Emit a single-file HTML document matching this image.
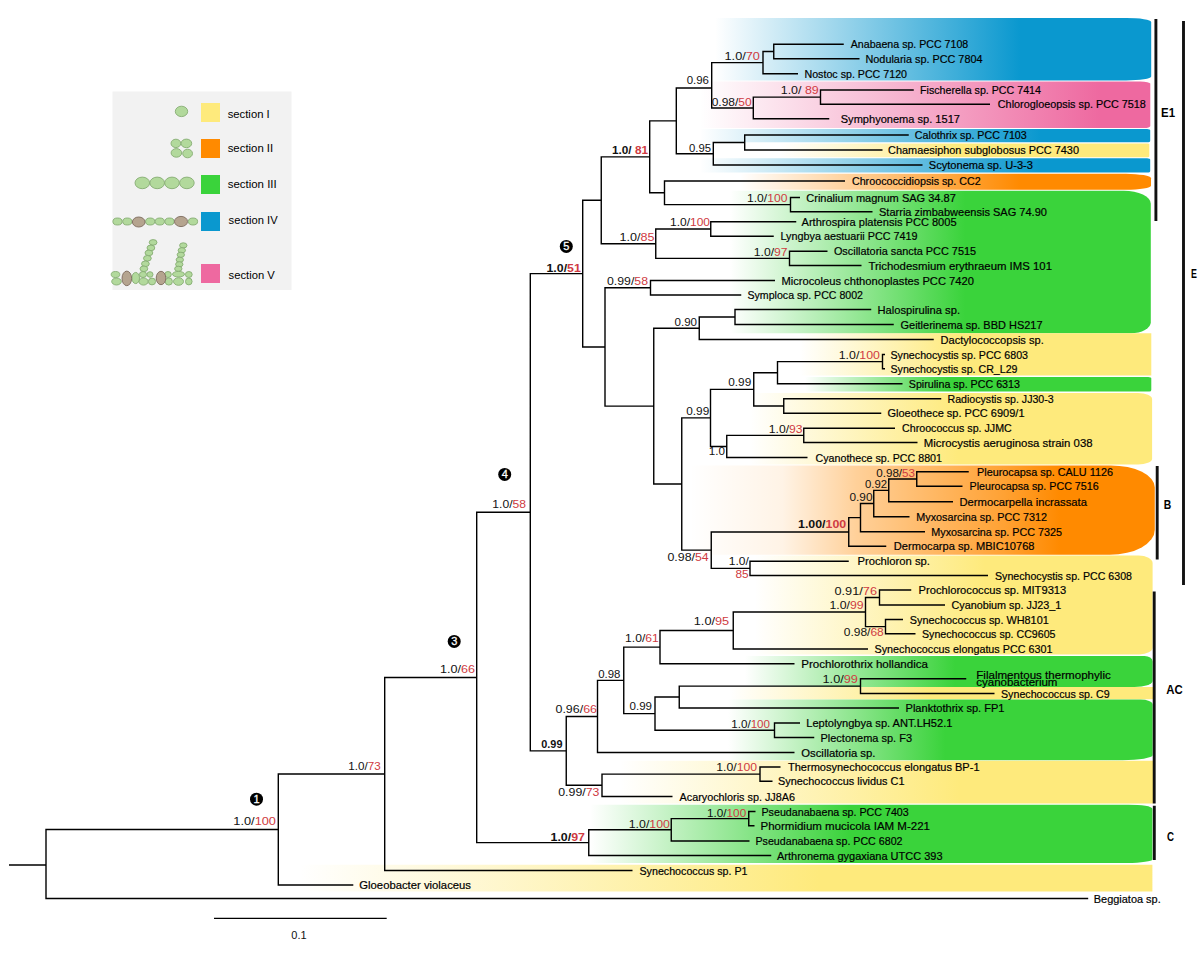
<!DOCTYPE html><html><head><meta charset="utf-8"><style>html,body{margin:0;padding:0;background:#fff;}svg{display:block}</style></head><body>
<svg width="1200" height="953" viewBox="0 0 1200 953" font-family='"Liberation Sans", sans-serif'>
<defs>
<linearGradient id="g0" gradientUnits="userSpaceOnUse" x1="715" y1="0" x2="1020" y2="0"><stop offset="0" stop-color="#0a98cf" stop-opacity="0"/><stop offset="1" stop-color="#0a98cf" stop-opacity="1"/></linearGradient>
<linearGradient id="g1" gradientUnits="userSpaceOnUse" x1="700" y1="0" x2="1100" y2="0"><stop offset="0" stop-color="#ee69a0" stop-opacity="0"/><stop offset="1" stop-color="#ee69a0" stop-opacity="1"/></linearGradient>
<linearGradient id="g2" gradientUnits="userSpaceOnUse" x1="700" y1="0" x2="1040" y2="0"><stop offset="0" stop-color="#0a98cf" stop-opacity="0"/><stop offset="1" stop-color="#0a98cf" stop-opacity="1"/></linearGradient>
<linearGradient id="g3" gradientUnits="userSpaceOnUse" x1="780" y1="0" x2="960" y2="0"><stop offset="0" stop-color="#feea7c" stop-opacity="0"/><stop offset="1" stop-color="#feea7c" stop-opacity="1"/></linearGradient>
<linearGradient id="g4" gradientUnits="userSpaceOnUse" x1="700" y1="0" x2="1040" y2="0"><stop offset="0" stop-color="#0a98cf" stop-opacity="0"/><stop offset="1" stop-color="#0a98cf" stop-opacity="1"/></linearGradient>
<linearGradient id="g5" gradientUnits="userSpaceOnUse" x1="740" y1="0" x2="1020" y2="0"><stop offset="0" stop-color="#ff8a00" stop-opacity="0"/><stop offset="1" stop-color="#ff8a00" stop-opacity="1"/></linearGradient>
<linearGradient id="g6" gradientUnits="userSpaceOnUse" x1="730" y1="0" x2="965" y2="0"><stop offset="0" stop-color="#3ad33b" stop-opacity="0"/><stop offset="1" stop-color="#3ad33b" stop-opacity="1"/></linearGradient>
<linearGradient id="g7" gradientUnits="userSpaceOnUse" x1="800" y1="0" x2="960" y2="0"><stop offset="0" stop-color="#feea7c" stop-opacity="0"/><stop offset="1" stop-color="#feea7c" stop-opacity="1"/></linearGradient>
<linearGradient id="g8" gradientUnits="userSpaceOnUse" x1="805" y1="0" x2="950" y2="0"><stop offset="0" stop-color="#3ad33b" stop-opacity="0"/><stop offset="1" stop-color="#3ad33b" stop-opacity="1"/></linearGradient>
<linearGradient id="g9" gradientUnits="userSpaceOnUse" x1="750" y1="0" x2="958" y2="0"><stop offset="0" stop-color="#feea7c" stop-opacity="0"/><stop offset="1" stop-color="#feea7c" stop-opacity="1"/></linearGradient>
<linearGradient id="g10" gradientUnits="userSpaceOnUse" x1="690" y1="0" x2="1060" y2="0"><stop offset="0" stop-color="#ff8a00" stop-opacity="0"/><stop offset="0.25" stop-color="#ff8a00" stop-opacity="0.1"/><stop offset="0.45" stop-color="#ff8a00" stop-opacity="0.4"/><stop offset="0.85" stop-color="#ff8a00" stop-opacity="0.8"/><stop offset="1" stop-color="#ff8a00" stop-opacity="1"/></linearGradient>
<linearGradient id="g11" gradientUnits="userSpaceOnUse" x1="755" y1="0" x2="985" y2="0"><stop offset="0" stop-color="#feea7c" stop-opacity="0"/><stop offset="1" stop-color="#feea7c" stop-opacity="1"/></linearGradient>
<linearGradient id="g12" gradientUnits="userSpaceOnUse" x1="745" y1="0" x2="955" y2="0"><stop offset="0" stop-color="#3ad33b" stop-opacity="0"/><stop offset="1" stop-color="#3ad33b" stop-opacity="1"/></linearGradient>
<linearGradient id="g13" gradientUnits="userSpaceOnUse" x1="730" y1="0" x2="930" y2="0"><stop offset="0" stop-color="#feea7c" stop-opacity="0"/><stop offset="1" stop-color="#feea7c" stop-opacity="1"/></linearGradient>
<linearGradient id="g14" gradientUnits="userSpaceOnUse" x1="728" y1="0" x2="945" y2="0"><stop offset="0" stop-color="#3ad33b" stop-opacity="0"/><stop offset="1" stop-color="#3ad33b" stop-opacity="1"/></linearGradient>
<linearGradient id="g15" gradientUnits="userSpaceOnUse" x1="620" y1="0" x2="960" y2="0"><stop offset="0" stop-color="#feea7c" stop-opacity="0"/><stop offset="1" stop-color="#feea7c" stop-opacity="1"/></linearGradient>
<linearGradient id="g16" gradientUnits="userSpaceOnUse" x1="590" y1="0" x2="850" y2="0"><stop offset="0" stop-color="#3ad33b" stop-opacity="0"/><stop offset="1" stop-color="#3ad33b" stop-opacity="1"/></linearGradient>
<linearGradient id="g17" gradientUnits="userSpaceOnUse" x1="300" y1="0" x2="820" y2="0"><stop offset="0" stop-color="#feea7c" stop-opacity="0"/><stop offset="1" stop-color="#feea7c" stop-opacity="1"/></linearGradient>
</defs>
<path d="M715 18H1126.2A25 4 0 0 1 1151.2 22V76.4A25 4 0 0 1 1126.2 80.4H715Z" fill="url(#g0)"/>
<path d="M700 81.6H1140.3A10 2 0 0 1 1150.3 83.6V126A6 2 0 0 1 1144.3 128H700Z" fill="url(#g1)"/>
<path d="M700 128.9H1147.2A3 1.5 0 0 1 1150.2 130.4V140.8A3 1.5 0 0 1 1147.2 142.3H700Z" fill="url(#g2)"/>
<path d="M780 143.5H1147.3A2 1 0 0 1 1149.3 144.5V156.2A2 1 0 0 1 1147.3 157.2H780Z" fill="url(#g3)"/>
<path d="M700 158.3H1147.2A3 1.5 0 0 1 1150.2 159.8V171.0A3 1.5 0 0 1 1147.2 172.5H700Z" fill="url(#g4)"/>
<path d="M740 173.8H1126A25 4.5 0 0 1 1151 178.3V185.7A25 4 0 0 1 1126 189.7H740Z" fill="url(#g5)"/>
<path d="M730 190.8H1123.8A27 13 0 0 1 1150.8 203.8V322.2A20 11 0 0 1 1130.8 333.2H730Z" fill="url(#g6)"/>
<path d="M800 333.2H1151.3V375.5H800Z" fill="url(#g7)"/>
<path d="M805 377.1H1148.3A3 1.5 0 0 1 1151.3 378.6V389.9A2 1.5 0 0 1 1149.3 391.4H805Z" fill="url(#g8)"/>
<path d="M750 393.1H1138.1A14 6 0 0 1 1152.1 399.1V458.9A14 5.5 0 0 1 1138.1 464.4H750Z" fill="url(#g9)"/>
<path d="M690 465.4H1110.8A44 22 0 0 1 1154.8 487.4V529.7A45 25 0 0 1 1109.8 554.7H690Z" fill="url(#g10)"/>
<path d="M755 555.5H1138.6A14 7.6 0 0 1 1152.6 563.1V647.4A13 7 0 0 1 1139.6 654.4H755Z" fill="url(#g11)"/>
<path d="M745 655.9H1144.6A8 5.5 0 0 1 1152.6 661.4V681A18 6 0 0 1 1134.6 687H745Z" fill="url(#g12)"/>
<path d="M730 687.0H1153V699.2H730Z" fill="url(#g13)"/>
<path d="M728 699.6H1140.6A12 5 0 0 1 1152.6 704.6V755.2A30 5 0 0 1 1122.6 760.2H728Z" fill="url(#g14)"/>
<path d="M620 760.7H1153V803.6H620Z" fill="url(#g15)"/>
<path d="M590 804.7H1128.4A24 4 0 0 1 1152.4 808.7V859.4A25 3.5 0 0 1 1127.4 862.9H590Z" fill="url(#g16)"/>
<path d="M300 864.7H1152.4V891.5H300Z" fill="url(#g17)"/>
<rect x="112.5" y="91.5" width="179" height="198.5" fill="#f2f2f2"/>
<rect x="201" y="103" width="19" height="19" fill="#feea7c"/>
<text x="227.7" y="118.1" font-size="11.5" fill="#000" textLength="42" lengthAdjust="spacingAndGlyphs">section I</text>
<rect x="201" y="139" width="19" height="19" fill="#ff8a00"/>
<text x="227.7" y="152.3" font-size="11.5" fill="#000" textLength="45.5" lengthAdjust="spacingAndGlyphs">section II</text>
<rect x="201" y="175" width="19" height="19" fill="#3ad33b"/>
<text x="227.7" y="187.6" font-size="11.5" fill="#000" textLength="49" lengthAdjust="spacingAndGlyphs">section III</text>
<rect x="201" y="212" width="19" height="19" fill="#0a98cf"/>
<text x="228.6" y="224.3" font-size="11.5" fill="#000" textLength="49" lengthAdjust="spacingAndGlyphs">section IV</text>
<rect x="201" y="264" width="19" height="19" fill="#ee69a0"/>
<text x="228.6" y="278.6" font-size="11.5" fill="#000" textLength="46.2" lengthAdjust="spacingAndGlyphs">section V</text>
<ellipse cx="181.5" cy="111.4" rx="6.2" ry="5.2" fill="#b2d99c" stroke="#86ad73" stroke-width="0.9"/>
<ellipse cx="175.9" cy="143.4" rx="4.9" ry="4.2" fill="#b2d99c" stroke="#86ad73" stroke-width="0.9"/>
<ellipse cx="186.4" cy="143.4" rx="5.3" ry="4.3" fill="#b2d99c" stroke="#86ad73" stroke-width="0.9"/>
<ellipse cx="176.4" cy="152.9" rx="5.3" ry="4.3" fill="#b2d99c" stroke="#86ad73" stroke-width="0.9"/>
<ellipse cx="187.6" cy="153.5" rx="4.9" ry="4.3" fill="#b2d99c" stroke="#86ad73" stroke-width="0.9"/>
<ellipse cx="142.3" cy="182.9" rx="7.3" ry="5.8" fill="#b2d99c" stroke="#86ad73" stroke-width="0.9"/>
<ellipse cx="157.2" cy="182.9" rx="7.3" ry="5.8" fill="#b2d99c" stroke="#86ad73" stroke-width="0.9"/>
<ellipse cx="172" cy="182.9" rx="7.3" ry="5.8" fill="#b2d99c" stroke="#86ad73" stroke-width="0.9"/>
<ellipse cx="186.9" cy="182.9" rx="7.3" ry="5.8" fill="#b2d99c" stroke="#86ad73" stroke-width="0.9"/>
<ellipse cx="117.5" cy="221.5" rx="4.6" ry="3.5" fill="#b2d99c" stroke="#86ad73" stroke-width="0.9"/>
<ellipse cx="127.3" cy="221.5" rx="4.6" ry="3.5" fill="#b2d99c" stroke="#86ad73" stroke-width="0.9"/>
<ellipse cx="150.2" cy="221.5" rx="4.6" ry="3.5" fill="#b2d99c" stroke="#86ad73" stroke-width="0.9"/>
<ellipse cx="159.8" cy="221.5" rx="4.6" ry="3.5" fill="#b2d99c" stroke="#86ad73" stroke-width="0.9"/>
<ellipse cx="169.5" cy="221.5" rx="4.6" ry="3.5" fill="#b2d99c" stroke="#86ad73" stroke-width="0.9"/>
<ellipse cx="193" cy="221.5" rx="4.6" ry="3.5" fill="#b2d99c" stroke="#86ad73" stroke-width="0.9"/>
<ellipse cx="138.7" cy="222" rx="6.3" ry="5" fill="#b5a48f" stroke="#7d6a5c" stroke-width="0.9"/>
<ellipse cx="181" cy="221.5" rx="6.5" ry="5.1" fill="#b5a48f" stroke="#7d6a5c" stroke-width="0.9"/>
<ellipse cx="153.1" cy="242.4" rx="3.9" ry="2.8" fill="#b2d99c" stroke="#86ad73" stroke-width="0.9"/>
<ellipse cx="150.9" cy="247.9" rx="3.9" ry="2.8" fill="#b2d99c" stroke="#86ad73" stroke-width="0.9"/>
<ellipse cx="148.9" cy="252.9" rx="3.9" ry="2.8" fill="#b2d99c" stroke="#86ad73" stroke-width="0.9"/>
<ellipse cx="147.4" cy="258.3" rx="3.9" ry="2.8" fill="#b2d99c" stroke="#86ad73" stroke-width="0.9"/>
<ellipse cx="145.4" cy="263.8" rx="3.9" ry="2.8" fill="#b2d99c" stroke="#86ad73" stroke-width="0.9"/>
<ellipse cx="143.9" cy="268.8" rx="3.9" ry="2.8" fill="#b2d99c" stroke="#86ad73" stroke-width="0.9"/>
<ellipse cx="183.3" cy="245.4" rx="3.7" ry="2.6" fill="#b2d99c" stroke="#86ad73" stroke-width="0.9"/>
<ellipse cx="181.8" cy="250.3" rx="3.7" ry="2.6" fill="#b2d99c" stroke="#86ad73" stroke-width="0.9"/>
<ellipse cx="180.8" cy="254.8" rx="3.7" ry="2.6" fill="#b2d99c" stroke="#86ad73" stroke-width="0.9"/>
<ellipse cx="179.8" cy="259.8" rx="3.7" ry="2.6" fill="#b2d99c" stroke="#86ad73" stroke-width="0.9"/>
<ellipse cx="179.3" cy="264.3" rx="3.7" ry="2.6" fill="#b2d99c" stroke="#86ad73" stroke-width="0.9"/>
<ellipse cx="178.3" cy="268.8" rx="3.7" ry="2.6" fill="#b2d99c" stroke="#86ad73" stroke-width="0.9"/>
<ellipse cx="115.5" cy="274.5" rx="4.3" ry="3" fill="#b2d99c" stroke="#86ad73" stroke-width="0.9"/>
<ellipse cx="116.5" cy="281.5" rx="4.8" ry="3.5" fill="#b2d99c" stroke="#86ad73" stroke-width="0.9"/>
<ellipse cx="143" cy="274.5" rx="3.6" ry="3" fill="#b2d99c" stroke="#86ad73" stroke-width="0.9"/>
<ellipse cx="143.5" cy="281.5" rx="4.6" ry="3.6" fill="#b2d99c" stroke="#86ad73" stroke-width="0.9"/>
<ellipse cx="150" cy="274.5" rx="3" ry="2.8" fill="#b2d99c" stroke="#86ad73" stroke-width="0.9"/>
<ellipse cx="152" cy="281.5" rx="3.6" ry="3.4" fill="#b2d99c" stroke="#86ad73" stroke-width="0.9"/>
<ellipse cx="168" cy="274.5" rx="3.3" ry="3" fill="#b2d99c" stroke="#86ad73" stroke-width="0.9"/>
<ellipse cx="168.8" cy="281.5" rx="3.6" ry="3.6" fill="#b2d99c" stroke="#86ad73" stroke-width="0.9"/>
<ellipse cx="178.5" cy="274.2" rx="6" ry="2.8" fill="#b2d99c" stroke="#86ad73" stroke-width="0.9"/>
<ellipse cx="178.5" cy="281.5" rx="5" ry="3.8" fill="#b2d99c" stroke="#86ad73" stroke-width="0.9"/>
<ellipse cx="188.8" cy="274.5" rx="3.4" ry="3" fill="#b2d99c" stroke="#86ad73" stroke-width="0.9"/>
<ellipse cx="188.8" cy="281.5" rx="3.3" ry="3.4" fill="#b2d99c" stroke="#86ad73" stroke-width="0.9"/>
<ellipse cx="135.7" cy="278" rx="3.8" ry="5.6" fill="#b2d99c" stroke="#86ad73" stroke-width="0.9"/>
<ellipse cx="126.8" cy="278.4" rx="4.8" ry="7.3" fill="#b5a48f" stroke="#7d6a5c" stroke-width="0.9"/>
<ellipse cx="161" cy="278" rx="4.8" ry="6.7" fill="#b5a48f" stroke="#7d6a5c" stroke-width="0.9"/>
<path d="M46 828.79V899.20M46 829.49H278.3M46 898.50H1088.2M278.3 773.27V885.70M278.3 773.97H384.7M278.3 885.00H353.3M384.7 676.75V871.20M384.7 677.45H476.7M384.7 870.50H632.5M476.7 511.54V843.36M476.7 512.24H530.3M476.7 842.66H588.75M530.3 272.90V751.58M530.3 273.60H582.7M530.3 750.88H566.25M582.7 199.57V347.64M582.7 200.27H601.25M582.7 346.94H605M601.25 156.14V244.39M601.25 156.84H649.7M601.25 243.69H655.75M649.7 120.17V193.51M649.7 120.88H676.3M649.7 192.81H664.5M676.3 87.30V154.45M676.3 88.00H711.7M676.3 153.75H713.3M711.7 61.92V108.64M711.7 62.62H763M711.7 107.94H753.3M763 50.80V74.45M763 51.50H773.75M763 73.75H798M773.75 43.55V59.45M773.75 44.25H843.75M773.75 58.75H859.5M753.3 96.42V119.45M753.3 97.12H820.5M753.3 118.75H829.25M820.5 89.30V104.95M820.5 90.00H913.75M820.5 104.25H990M713.3 141.80V165.70M713.3 142.50H744.7M713.3 165.00H922.5M744.7 134.30V150.70M744.7 135.00H908.75M744.7 150.00H882.5M664.5 180.30V205.32M664.5 181.00H845M664.5 204.62H790.5M790.5 196.80V212.45M790.5 197.50H800M790.5 211.75H872.5M655.75 228.30V259.07M655.75 229.00H710.75M655.75 258.38H789.5M710.75 221.05V236.95M710.75 221.75H796.25M710.75 236.25H773.75M789.5 250.55V266.20M789.5 251.25H827.5M789.5 265.50H861.5M605 287.05V406.84M605 287.75H650.5M605 406.14H653.75M650.5 279.80V295.70M650.5 280.50H775M650.5 295.00H741.25M653.75 327.55V484.73M653.75 328.25H699.25M653.75 484.03H681.75M699.25 316.30V340.20M699.25 317.00H735M699.25 339.50H933.75M735 308.80V325.20M735 309.50H871.25M735 324.50H893.75M681.75 417.19V550.86M681.75 417.89H710.5M681.75 550.16H711.25M710.5 388.64V447.14M710.5 389.34H753.75M710.5 446.44H726.75M753.75 371.99V406.70M753.75 372.69H777.5M753.75 406.00H783.75M777.5 360.93V384.45M777.5 361.62H882.5M777.5 383.75H902.5M882.5 353.80V369.45M882.5 354.50H885M882.5 368.75H885M783.75 398.05V413.95M783.75 398.75H941.25M783.75 413.25H881.25M726.75 434.68V458.20M726.75 435.38H803.75M726.75 457.50H807.5M803.75 427.55V443.20M803.75 428.25H895M803.75 442.50H917.5M711.25 531.25V569.08M711.25 531.95H848.75M711.25 568.38H750M848.75 516.96V546.95M848.75 517.66H860.5M848.75 546.25H886.25M860.5 502.86V532.45M860.5 503.56H873.75M860.5 531.75H925M873.75 489.68V517.45M873.75 490.38H888.75M873.75 516.75H909.5M888.75 478.30V502.45M888.75 479.00H916.75M888.75 501.75H953M916.75 471.05V486.95M916.75 471.75H968.75M916.75 486.25H962.5M750 560.55V576.20M750 561.25H848.75M750 575.50H988M566.25 715.75V786.01M566.25 716.45H597.5M566.25 785.31H602M597.5 679.70V753.20M597.5 680.40H623.75M597.5 752.50H794.5M623.75 646.44V714.36M623.75 647.14H660M623.75 713.66H655M660 629.83V664.45M660 630.53H733.25M660 663.75H794.5M733.25 611.36V649.70M733.25 612.06H865.5M733.25 649.00H868M865.5 596.80V627.33M865.5 597.50H879.5M865.5 626.62H885.5M879.5 589.30V605.70M879.5 590.00H911.25M879.5 605.00H945M885.5 618.80V634.45M885.5 619.50H903M885.5 633.75H915.5M655 696.36V730.95M655 697.06H679.25M655 730.25H774.5M679.25 685.42V708.70M679.25 686.12H860.5M679.25 708.00H899M860.5 678.05V694.20M860.5 678.75H966.25M860.5 693.50H994.5M774.5 722.30V738.20M774.5 723.00H800M774.5 737.50H814.25M602 773.42V797.20M602 774.12H760M602 796.50H672.5M760 766.30V781.95M760 767.00H780.5M760 781.25H772.5M588.75 829.11V856.20M588.75 829.81H671.25M588.75 855.50H771.25M671.25 817.92V841.70M671.25 818.62H748.75M671.25 841.00H749.5M748.75 810.80V826.45M748.75 811.50H755.5M748.75 825.75H754.5M9 865.00H46" stroke="#000" stroke-width="1.4" fill="none"/>
<text x="850.75" y="48.25" font-size="11.5" textLength="117.5" lengthAdjust="spacingAndGlyphs" fill="#000" stroke="#000" stroke-width="0.2">Anabaena sp. PCC 7108</text>
<text x="865.5" y="62.75" font-size="11.5" textLength="117.0" lengthAdjust="spacingAndGlyphs" fill="#000" stroke="#000" stroke-width="0.2">Nodularia sp. PCC 7804</text>
<text x="804.5" y="77.75" font-size="11.5" textLength="102.5" lengthAdjust="spacingAndGlyphs" fill="#000" stroke="#000" stroke-width="0.2">Nostoc sp. PCC 7120</text>
<text x="920" y="94" font-size="11.5" textLength="121.0" lengthAdjust="spacingAndGlyphs" fill="#000" stroke="#000" stroke-width="0.2">Fischerella sp. PCC 7414</text>
<text x="997.8" y="108.25" font-size="11.5" textLength="148.1" lengthAdjust="spacingAndGlyphs" fill="#000" stroke="#000" stroke-width="0.2">Chlorogloeopsis sp. PCC 7518</text>
<text x="840.75" y="122.75" font-size="11.5" textLength="119.2" lengthAdjust="spacingAndGlyphs" fill="#000" stroke="#000" stroke-width="0.2">Symphyonema sp. 1517</text>
<text x="914.8" y="139" font-size="11.5" textLength="112.0" lengthAdjust="spacingAndGlyphs" fill="#000" stroke="#000" stroke-width="0.2">Calothrix sp. PCC 7103</text>
<text x="888.1" y="154" font-size="11.5" textLength="190.9" lengthAdjust="spacingAndGlyphs" fill="#000" stroke="#000" stroke-width="0.2">Chamaesiphon subglobosus PCC 7430</text>
<text x="928.8" y="169" font-size="11.5" textLength="104.1" lengthAdjust="spacingAndGlyphs" fill="#000" stroke="#000" stroke-width="0.2">Scytonema sp. U-3-3</text>
<text x="851.9" y="185" font-size="11.5" textLength="128.9" lengthAdjust="spacingAndGlyphs" fill="#000" stroke="#000" stroke-width="0.2">Chroococcidiopsis sp. CC2</text>
<text x="806.25" y="201.5" font-size="11.5" textLength="149.6" lengthAdjust="spacingAndGlyphs" fill="#000" stroke="#000" stroke-width="0.2">Crinalium magnum SAG 34.87</text>
<text x="879" y="215.75" font-size="11.5" textLength="167.9" lengthAdjust="spacingAndGlyphs" fill="#000" stroke="#000" stroke-width="0.2">Starria zimbabweensis SAG 74.90</text>
<text x="801.5" y="225.75" font-size="11.5" textLength="155.1" lengthAdjust="spacingAndGlyphs" fill="#000" stroke="#000" stroke-width="0.2">Arthrospira platensis PCC 8005</text>
<text x="780.5" y="240.25" font-size="11.5" textLength="137.1" lengthAdjust="spacingAndGlyphs" fill="#000" stroke="#000" stroke-width="0.2">Lyngbya aestuarii PCC 7419</text>
<text x="833.9" y="255.25" font-size="11.5" textLength="142.2" lengthAdjust="spacingAndGlyphs" fill="#000" stroke="#000" stroke-width="0.2">Oscillatoria sancta PCC 7515</text>
<text x="868.4" y="269.5" font-size="11.5" textLength="183.6" lengthAdjust="spacingAndGlyphs" fill="#000" stroke="#000" stroke-width="0.2">Trichodesmium erythraeum IMS 101</text>
<text x="781.4" y="284.5" font-size="11.5" textLength="192.6" lengthAdjust="spacingAndGlyphs" fill="#000" stroke="#000" stroke-width="0.2">Microcoleus chthonoplastes PCC 7420</text>
<text x="747.5" y="299" font-size="11.5" textLength="115.5" lengthAdjust="spacingAndGlyphs" fill="#000" stroke="#000" stroke-width="0.2">Symploca sp. PCC 8002</text>
<text x="877.5" y="313.5" font-size="11.5" textLength="82.5" lengthAdjust="spacingAndGlyphs" fill="#000" stroke="#000" stroke-width="0.2">Halospirulina sp.</text>
<text x="900.5" y="328.5" font-size="11.5" textLength="142.0" lengthAdjust="spacingAndGlyphs" fill="#000" stroke="#000" stroke-width="0.2">Geitlerinema sp. BBD HS217</text>
<text x="940.5" y="343.5" font-size="11.5" textLength="103.2" lengthAdjust="spacingAndGlyphs" fill="#000" stroke="#000" stroke-width="0.2">Dactylococcopsis sp.</text>
<text x="890.5" y="358.5" font-size="11.5" textLength="137.5" lengthAdjust="spacingAndGlyphs" fill="#000" stroke="#000" stroke-width="0.2">Synechocystis sp. PCC 6803</text>
<text x="890.5" y="372.75" font-size="11.5" textLength="127.0" lengthAdjust="spacingAndGlyphs" fill="#000" stroke="#000" stroke-width="0.2">Synechocystis sp. CR_L29</text>
<text x="908.75" y="387.75" font-size="11.5" textLength="111.2" lengthAdjust="spacingAndGlyphs" fill="#000" stroke="#000" stroke-width="0.2">Spirulina sp. PCC 6313</text>
<text x="947.5" y="402.75" font-size="11.5" textLength="106.2" lengthAdjust="spacingAndGlyphs" fill="#000" stroke="#000" stroke-width="0.2">Radiocystis sp. JJ30-3</text>
<text x="887.5" y="417.25" font-size="11.5" textLength="137.0" lengthAdjust="spacingAndGlyphs" fill="#000" stroke="#000" stroke-width="0.2">Gloeothece sp. PCC 6909/1</text>
<text x="902" y="432.25" font-size="11.5" textLength="109.8" lengthAdjust="spacingAndGlyphs" fill="#000" stroke="#000" stroke-width="0.2">Chroococcus sp. JJMC</text>
<text x="923.75" y="446.5" font-size="11.5" textLength="168.8" lengthAdjust="spacingAndGlyphs" fill="#000" stroke="#000" stroke-width="0.2">Microcystis aeruginosa strain 038</text>
<text x="815.5" y="461.5" font-size="11.5" textLength="126.5" lengthAdjust="spacingAndGlyphs" fill="#000" stroke="#000" stroke-width="0.2">Cyanothece sp. PCC 8801</text>
<text x="977" y="475.75" font-size="11.5" textLength="136.0" lengthAdjust="spacingAndGlyphs" fill="#000" stroke="#000" stroke-width="0.2">Pleurocapsa sp. CALU 1126</text>
<text x="969.5" y="490.25" font-size="11.5" textLength="129.2" lengthAdjust="spacingAndGlyphs" fill="#000" stroke="#000" stroke-width="0.2">Pleurocapsa sp. PCC 7516</text>
<text x="959.5" y="505.75" font-size="11.5" textLength="127.5" lengthAdjust="spacingAndGlyphs" fill="#000" stroke="#000" stroke-width="0.2">Dermocarpella incrassata</text>
<text x="916.25" y="520.75" font-size="11.5" textLength="130.8" lengthAdjust="spacingAndGlyphs" fill="#000" stroke="#000" stroke-width="0.2">Myxosarcina sp. PCC 7312</text>
<text x="931.25" y="535.75" font-size="11.5" textLength="130.8" lengthAdjust="spacingAndGlyphs" fill="#000" stroke="#000" stroke-width="0.2">Myxosarcina sp. PCC 7325</text>
<text x="893.75" y="550.25" font-size="11.5" textLength="140.8" lengthAdjust="spacingAndGlyphs" fill="#000" stroke="#000" stroke-width="0.2">Dermocarpa sp. MBIC10768</text>
<text x="857.5" y="565.25" font-size="11.5" textLength="72.5" lengthAdjust="spacingAndGlyphs" fill="#000" stroke="#000" stroke-width="0.2">Prochloron sp.</text>
<text x="995" y="579.5" font-size="11.5" textLength="137.0" lengthAdjust="spacingAndGlyphs" fill="#000" stroke="#000" stroke-width="0.2">Synechocystis sp. PCC 6308</text>
<text x="918.5" y="594" font-size="11.5" textLength="147.8" lengthAdjust="spacingAndGlyphs" fill="#000" stroke="#000" stroke-width="0.2">Prochlorococcus sp. MIT9313</text>
<text x="951.5" y="609" font-size="11.5" textLength="109.8" lengthAdjust="spacingAndGlyphs" fill="#000" stroke="#000" stroke-width="0.2">Cyanobium sp. JJ23_1</text>
<text x="909.75" y="623.5" font-size="11.5" textLength="139.0" lengthAdjust="spacingAndGlyphs" fill="#000" stroke="#000" stroke-width="0.2">Synechococcus sp. WH8101</text>
<text x="922" y="637.75" font-size="11.5" textLength="133.5" lengthAdjust="spacingAndGlyphs" fill="#000" stroke="#000" stroke-width="0.2">Synechococcus sp. CC9605</text>
<text x="874.5" y="653" font-size="11.5" textLength="178.0" lengthAdjust="spacingAndGlyphs" fill="#000" stroke="#000" stroke-width="0.2">Synechococcus elongatus PCC 6301</text>
<text x="801.25" y="667.75" font-size="11.5" textLength="126.8" lengthAdjust="spacingAndGlyphs" fill="#000" stroke="#000" stroke-width="0.2">Prochlorothrix hollandica</text>
<text x="976.25" y="679.15" font-size="11.5" textLength="134.5" lengthAdjust="spacingAndGlyphs" fill="#000" stroke="#000" stroke-width="0.2">Filalmentous thermophylic</text>
<text x="976.25" y="685.95" font-size="11.5" textLength="81.2" lengthAdjust="spacingAndGlyphs" fill="#000" stroke="#000" stroke-width="0.2">cyanobacterium</text>
<text x="1001" y="697.5" font-size="11.5" textLength="108.6" lengthAdjust="spacingAndGlyphs" fill="#000" stroke="#000" stroke-width="0.2">Synechococcus sp. C9</text>
<text x="905.5" y="712" font-size="11.5" textLength="99.0" lengthAdjust="spacingAndGlyphs" fill="#000" stroke="#000" stroke-width="0.2">Planktothrix sp. FP1</text>
<text x="806.25" y="727" font-size="11.5" textLength="146.2" lengthAdjust="spacingAndGlyphs" fill="#000" stroke="#000" stroke-width="0.2">Leptolyngbya sp. ANT.LH52.1</text>
<text x="820.5" y="741.5" font-size="11.5" textLength="91.5" lengthAdjust="spacingAndGlyphs" fill="#000" stroke="#000" stroke-width="0.2">Plectonema sp. F3</text>
<text x="801.25" y="756.5" font-size="11.5" textLength="74.2" lengthAdjust="spacingAndGlyphs" fill="#000" stroke="#000" stroke-width="0.2">Oscillatoria sp.</text>
<text x="788" y="771" font-size="11.5" textLength="191.5" lengthAdjust="spacingAndGlyphs" fill="#000" stroke="#000" stroke-width="0.2">Thermosynechococcus elongatus BP-1</text>
<text x="778" y="785.25" font-size="11.5" textLength="126.5" lengthAdjust="spacingAndGlyphs" fill="#000" stroke="#000" stroke-width="0.2">Synechococcus lividus C1</text>
<text x="679.5" y="800.5" font-size="11.5" textLength="115.5" lengthAdjust="spacingAndGlyphs" fill="#000" stroke="#000" stroke-width="0.2">Acaryochloris sp. JJ8A6</text>
<text x="761.5" y="815.5" font-size="11.5" textLength="147.2" lengthAdjust="spacingAndGlyphs" fill="#000" stroke="#000" stroke-width="0.2">Pseudanabaena sp. PCC 7403</text>
<text x="760.5" y="829.75" font-size="11.5" textLength="169.5" lengthAdjust="spacingAndGlyphs" fill="#000" stroke="#000" stroke-width="0.2">Phormidium mucicola IAM M-221</text>
<text x="755.5" y="845" font-size="11.5" textLength="147.0" lengthAdjust="spacingAndGlyphs" fill="#000" stroke="#000" stroke-width="0.2">Pseudanabaena sp. PCC 6802</text>
<text x="777" y="859.5" font-size="11.5" textLength="165.5" lengthAdjust="spacingAndGlyphs" fill="#000" stroke="#000" stroke-width="0.2">Arthronema gygaxiana UTCC 393</text>
<text x="639.5" y="874.5" font-size="11.5" textLength="108.0" lengthAdjust="spacingAndGlyphs" fill="#000" stroke="#000" stroke-width="0.2">Synechococcus sp. P1</text>
<text x="359.3" y="889" font-size="11.5" textLength="111.7" lengthAdjust="spacingAndGlyphs" fill="#000" stroke="#000" stroke-width="0.2">Gloeobacter violaceus</text>
<text x="1093.8" y="902.5" font-size="11.5" textLength="66.9" lengthAdjust="spacingAndGlyphs" fill="#000" stroke="#000" stroke-width="0.2">Beggiatoa sp.</text>
<text x="724.5" y="60" font-size="11" textLength="35.5" lengthAdjust="spacingAndGlyphs" fill="#111">1.0/<tspan fill="#cf3a42">70</tspan></text>
<text x="686.7" y="84" font-size="11" textLength="22.3" lengthAdjust="spacingAndGlyphs" fill="#111">0.96<tspan fill="#cf3a42"></tspan></text>
<text x="711.7" y="105.8" font-size="11" textLength="40.0" lengthAdjust="spacingAndGlyphs" fill="#111">0.98/<tspan fill="#cf3a42">50</tspan></text>
<text x="780.75" y="93.75" font-size="11" textLength="38.0" lengthAdjust="spacingAndGlyphs" fill="#111">1.0/ <tspan fill="#cf3a42">89</tspan></text>
<text x="689" y="151.7" font-size="11" textLength="22.0" lengthAdjust="spacingAndGlyphs" fill="#111">0.95<tspan fill="#cf3a42"></tspan></text>
<text x="612" y="153.7" font-size="11" font-weight="bold" textLength="36.0" lengthAdjust="spacingAndGlyphs" fill="#111">1.0/ <tspan fill="#cf3a42">81</tspan></text>
<text x="747" y="201.75" font-size="11" textLength="40.5" lengthAdjust="spacingAndGlyphs" fill="#111">1.0/<tspan fill="#cf3a42">100</tspan></text>
<text x="670" y="226.25" font-size="11" textLength="40.0" lengthAdjust="spacingAndGlyphs" fill="#111">1.0/<tspan fill="#cf3a42">100</tspan></text>
<text x="619.5" y="241.25" font-size="11" textLength="35.0" lengthAdjust="spacingAndGlyphs" fill="#111">1.0/<tspan fill="#cf3a42">85</tspan></text>
<text x="753.75" y="255.75" font-size="11" textLength="33.8" lengthAdjust="spacingAndGlyphs" fill="#111">1.0/<tspan fill="#cf3a42">97</tspan></text>
<text x="546.5" y="271.5" font-size="11" font-weight="bold" textLength="34.3" lengthAdjust="spacingAndGlyphs" fill="#111">1.0/<tspan fill="#cf3a42">51</tspan></text>
<text x="607" y="285" font-size="11" textLength="41.0" lengthAdjust="spacingAndGlyphs" fill="#111">0.99/<tspan fill="#cf3a42">58</tspan></text>
<text x="674.5" y="325.75" font-size="11" textLength="22.5" lengthAdjust="spacingAndGlyphs" fill="#111">0.90<tspan fill="#cf3a42"></tspan></text>
<text x="838.75" y="358.75" font-size="11" textLength="41.2" lengthAdjust="spacingAndGlyphs" fill="#111">1.0/<tspan fill="#cf3a42">100</tspan></text>
<text x="728.25" y="385.5" font-size="11" textLength="23.0" lengthAdjust="spacingAndGlyphs" fill="#111">0.99<tspan fill="#cf3a42"></tspan></text>
<text x="686.25" y="415" font-size="11" textLength="23.0" lengthAdjust="spacingAndGlyphs" fill="#111">0.99<tspan fill="#cf3a42"></tspan></text>
<text x="768.75" y="433" font-size="11" textLength="33.8" lengthAdjust="spacingAndGlyphs" fill="#111">1.0/<tspan fill="#cf3a42">93</tspan></text>
<text x="708.75" y="455" font-size="11" textLength="16.2" lengthAdjust="spacingAndGlyphs" fill="#111">1.0<tspan fill="#cf3a42"></tspan></text>
<text x="876.25" y="476.75" font-size="11" textLength="38.8" lengthAdjust="spacingAndGlyphs" fill="#111">0.98/<tspan fill="#cf3a42">53</tspan></text>
<text x="865" y="488.25" font-size="11" textLength="22.0" lengthAdjust="spacingAndGlyphs" fill="#111">0.92<tspan fill="#cf3a42"></tspan></text>
<text x="849.5" y="501.25" font-size="11" textLength="23.0" lengthAdjust="spacingAndGlyphs" fill="#111">0.90<tspan fill="#cf3a42"></tspan></text>
<text x="798" y="528" font-size="11" font-weight="bold" textLength="48.2" lengthAdjust="spacingAndGlyphs" fill="#111">1.00/<tspan fill="#cf3a42">100</tspan></text>
<text x="492.3" y="508" font-size="11" textLength="33.7" lengthAdjust="spacingAndGlyphs" fill="#111">1.0/<tspan fill="#cf3a42">58</tspan></text>
<text x="667.5" y="560.5" font-size="11" textLength="41.2" lengthAdjust="spacingAndGlyphs" fill="#111">0.98/<tspan fill="#cf3a42">54</tspan></text>
<text x="728.75" y="565" font-size="11" textLength="20.0" lengthAdjust="spacingAndGlyphs" fill="#111">1.0/<tspan fill="#cf3a42"></tspan></text>
<text x="735.5" y="578" font-size="11" textLength="13.2" lengthAdjust="spacingAndGlyphs" fill="#111"><tspan fill="#cf3a42">85</tspan></text>
<text x="834.5" y="595" font-size="11" textLength="42.5" lengthAdjust="spacingAndGlyphs" fill="#111">0.91/<tspan fill="#cf3a42">76</tspan></text>
<text x="829.5" y="608.75" font-size="11" textLength="34.2" lengthAdjust="spacingAndGlyphs" fill="#111">1.0/<tspan fill="#cf3a42">99</tspan></text>
<text x="693.75" y="625" font-size="11" textLength="35.5" lengthAdjust="spacingAndGlyphs" fill="#111">1.0/<tspan fill="#cf3a42">95</tspan></text>
<text x="843.75" y="636.25" font-size="11" textLength="40.0" lengthAdjust="spacingAndGlyphs" fill="#111">0.98/<tspan fill="#cf3a42">68</tspan></text>
<text x="625" y="642" font-size="11" textLength="33.8" lengthAdjust="spacingAndGlyphs" fill="#111">1.0/<tspan fill="#cf3a42">61</tspan></text>
<text x="440" y="673.2" font-size="11" textLength="35.0" lengthAdjust="spacingAndGlyphs" fill="#111">1.0/<tspan fill="#cf3a42">66</tspan></text>
<text x="598.25" y="677.5" font-size="11" textLength="22.2" lengthAdjust="spacingAndGlyphs" fill="#111">0.98<tspan fill="#cf3a42"></tspan></text>
<text x="822.5" y="683.25" font-size="11" textLength="35.5" lengthAdjust="spacingAndGlyphs" fill="#111">1.0/<tspan fill="#cf3a42">99</tspan></text>
<text x="629.5" y="710" font-size="11" textLength="22.5" lengthAdjust="spacingAndGlyphs" fill="#111">0.99<tspan fill="#cf3a42"></tspan></text>
<text x="555.5" y="712.5" font-size="11" textLength="41.5" lengthAdjust="spacingAndGlyphs" fill="#111">0.96/<tspan fill="#cf3a42">66</tspan></text>
<text x="731.25" y="727.5" font-size="11" textLength="38.8" lengthAdjust="spacingAndGlyphs" fill="#111">1.0/<tspan fill="#cf3a42">100</tspan></text>
<text x="541.25" y="747.5" font-size="11" font-weight="bold" textLength="21.2" lengthAdjust="spacingAndGlyphs" fill="#111">0.99<tspan fill="#cf3a42"></tspan></text>
<text x="716.25" y="770.5" font-size="11" textLength="40.8" lengthAdjust="spacingAndGlyphs" fill="#111">1.0/<tspan fill="#cf3a42">100</tspan></text>
<text x="348.3" y="770" font-size="11" textLength="32.4" lengthAdjust="spacingAndGlyphs" fill="#111">1.0/<tspan fill="#cf3a42">73</tspan></text>
<text x="558.25" y="796.25" font-size="11" textLength="41.2" lengthAdjust="spacingAndGlyphs" fill="#111">0.99/<tspan fill="#cf3a42">73</tspan></text>
<text x="707" y="817" font-size="11" textLength="39.2" lengthAdjust="spacingAndGlyphs" fill="#111">1.0/<tspan fill="#cf3a42">100</tspan></text>
<text x="628.75" y="827.5" font-size="11" textLength="41.2" lengthAdjust="spacingAndGlyphs" fill="#111">1.0/<tspan fill="#cf3a42">100</tspan></text>
<text x="233.3" y="825" font-size="11" textLength="42.7" lengthAdjust="spacingAndGlyphs" fill="#111">1.0/<tspan fill="#cf3a42">100</tspan></text>
<text x="550.5" y="840.75" font-size="11" font-weight="bold" textLength="34.5" lengthAdjust="spacingAndGlyphs" fill="#111">1.0/<tspan fill="#cf3a42">97</tspan></text>
<circle cx="256.5" cy="799.2" r="6.5" fill="#000"/><text x="256.5" y="803.2" font-size="11" fill="#fff" stroke="#fff" stroke-width="0.3" text-anchor="middle">1</text>
<circle cx="454.2" cy="641.4" r="6.5" fill="#000"/><text x="454.2" y="645.4" font-size="11" fill="#fff" stroke="#fff" stroke-width="0.3" text-anchor="middle">3</text>
<circle cx="504.7" cy="474.4" r="6.5" fill="#000"/><text x="504.7" y="478.4" font-size="11" fill="#fff" stroke="#fff" stroke-width="0.3" text-anchor="middle">4</text>
<circle cx="566.3" cy="246.4" r="6.5" fill="#000"/><text x="566.3" y="250.4" font-size="11" fill="#fff" stroke="#fff" stroke-width="0.3" text-anchor="middle">5</text>
<path d="M1155.9 19V221M1183.5 21V585M1157.2 466V559.4M1154.2 591.6V803.5M1154.3 805.7V860" stroke="#111" stroke-width="2.9" fill="none"/>
<text x="1161" y="116.75" font-size="13" font-weight="bold" fill="#000" textLength="14.0" lengthAdjust="spacingAndGlyphs">E1</text>
<text x="1191.1" y="278" font-size="13" font-weight="bold" fill="#000" textLength="5.9" lengthAdjust="spacingAndGlyphs">E</text>
<text x="1163.75" y="508.75" font-size="13" font-weight="bold" fill="#000" textLength="7.5" lengthAdjust="spacingAndGlyphs">B</text>
<text x="1166.2" y="693.6" font-size="13" font-weight="bold" fill="#000" textLength="16.4" lengthAdjust="spacingAndGlyphs">AC</text>
<text x="1167.1" y="840.5" font-size="13" font-weight="bold" fill="#000" textLength="7.0" lengthAdjust="spacingAndGlyphs">C</text>
<path d="M214 918.3H386.7" stroke="#000" stroke-width="1.3"/>
<text x="299" y="938.5" font-size="11" text-anchor="middle" fill="#111">0.1</text>
</svg></body></html>
